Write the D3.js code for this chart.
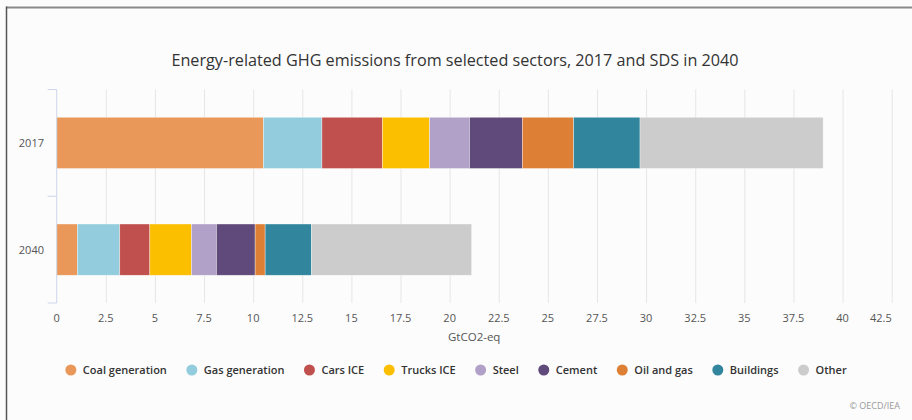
<!DOCTYPE html>
<html>
<head>
<meta charset="utf-8">
<script src="https://cdnjs.cloudflare.com/ajax/libs/d3/7.8.5/d3.min.js"></script>
<style>
  html, body { margin: 0; padding: 0; background: #fcfcfc; }
  svg { display: block; font-family: "Open Sans", sans-serif; }
</style>
</head>
<body>
<svg id="chart" width="912" height="420"></svg>
<script>
// ---- data ----
const categories = ["2017", "2040"];
const seriesNames = ["Coal generation", "Gas generation", "Cars ICE", "Trucks ICE", "Steel", "Cement", "Oil and gas", "Buildings", "Other"];
const coalGeneration = [10.52, 1.05];
const gasGeneration = [2.98, 2.16];
const carsICE = [3.08, 1.53];
const trucksICE = [2.40, 2.12];
const steel = [2.03, 1.27];
const cement = [2.69, 1.97];
const oilAndGas = [2.61, 0.51];
const buildings = [3.38, 2.36];
const other = [9.32, 8.15];
const xTicks = [0, 2.5, 5, 7.5, 10, 12.5, 15, 17.5, 20, 22.5, 25, 27.5, 30, 32.5, 35, 37.5, 40, 42.5];
const colors = ["#e9985a", "#93cddd", "#c0504d", "#fbbf00", "#b1a0c7", "#604a7b", "#dd8036", "#31859c", "#cccccc"];

const seriesValues = [coalGeneration, gasGeneration, carsICE, trucksICE, steel, cement, oilAndGas, buildings, other];

// ---- layout ----
const svg = d3.select("#chart");
const W = 912, H = 420;
const plot = { left: 56.7, right: 891.7, top: 89.5, bottom: 303 };

svg.append("rect").attr("width", W).attr("height", H).attr("fill", "#fcfcfc");
// frame lines (cropped screenshot frame)
svg.append("line").attr("x1", 6).attr("x2", W).attr("y1", 7.5).attr("y2", 7.5)
  .attr("stroke", "#8a8a8a").attr("stroke-width", 2);
svg.append("line").attr("x1", 6.5).attr("x2", 6.5).attr("y1", 6.5).attr("y2", H)
  .attr("stroke", "#555").attr("stroke-width", 1.5);

// title
svg.append("text").attr("x", 455).attr("y", 66).attr("text-anchor", "middle")
  .attr("font-size", 16.2).attr("fill", "#333")
  .text("Energy-related GHG emissions from selected sectors, 2017 and SDS in 2040");

const x = d3.scaleLinear().domain([0, 42.5]).range([plot.left, plot.right]);
const y = d3.scaleBand().domain(categories).range([plot.top, plot.bottom]).padding(0);

// gridlines
svg.append("g").selectAll("line").data(xTicks.filter(t => t > 0)).join("line")
  .attr("x1", d => x(d) + 0.5).attr("x2", d => x(d) + 0.5)
  .attr("y1", plot.top).attr("y2", plot.bottom)
  .attr("stroke", "#e6e6e6").attr("stroke-width", 1);

// stacked data
const table = categories.map((c, i) => {
  const o = { cat: c };
  seriesNames.forEach((s, j) => o[s] = seriesValues[j][i]);
  return o;
});
const stacked = d3.stack().keys(seriesNames)(table);

const barH = y.bandwidth() * 0.48;
svg.append("g").selectAll("g").data(stacked).join("g")
  .attr("fill", (d, i) => colors[i])
  .selectAll("rect").data(d => d).join("rect")
  .attr("x", d => x(d[0]))
  .attr("width", d => x(d[1]) - x(d[0]))
  .attr("y", d => y(d.data.cat) + (y.bandwidth() - barH) / 2)
  .attr("height", barH)
  .attr("stroke", "#ffffff").attr("stroke-width", 0.6).attr("stroke-opacity", 0.6);

// y axis line and ticks
svg.append("line").attr("x1", plot.left).attr("x2", plot.left)
  .attr("y1", plot.top).attr("y2", plot.bottom).attr("stroke", "#ccd6eb");
const yTickPos = [plot.top, ...categories.slice(1).map(c => y(c)), plot.bottom];
svg.append("g").selectAll("line").data(yTickPos).join("line")
  .attr("x1", plot.left - 9).attr("x2", plot.left)
  .attr("y1", d => d).attr("y2", d => d).attr("stroke", "#ccd6eb");
svg.append("g").selectAll("text").data(categories).join("text")
  .attr("x", 44).attr("y", d => y(d) + y.bandwidth() / 2 + 4)
  .attr("text-anchor", "end").attr("font-size", 11).attr("fill", "#555")
  .text(d => d);

// x tick labels
const xl = svg.append("g").selectAll("text").data(xTicks).join("text")
  .attr("x", d => x(d)).attr("y", 321.5)
  .attr("text-anchor", "middle").attr("font-size", 11).attr("fill", "#555")
  .text(d => d);
xl.each(function() {
  const bb = this.getBBox();
  if (bb.x + bb.width > plot.right) {
    d3.select(this).attr("x", +d3.select(this).attr("x") - (bb.x + bb.width - plot.right));
  }
});

// x axis title
svg.append("text").attr("x", (plot.left + plot.right) / 2).attr("y", 341)
  .attr("text-anchor", "middle").attr("font-size", 11.5).attr("fill", "#555")
  .text("GtCO2-eq");

// legend
const legend = svg.append("g");
const items = legend.selectAll("g").data(seriesNames).join("g");
items.append("circle").attr("r", 5.5).attr("cy", 0).attr("fill", (d, i) => colors[i]);
items.append("text").attr("x", 12).attr("y", 4.2)
  .attr("font-size", 11).attr("font-weight", 600).attr("fill", "#333")
  .text(d => d);
let cx = 0;
const pos = [];
items.each(function(d, i) {
  const tw = d3.select(this).select("text").node().getComputedTextLength();
  pos.push(cx);
  cx += 12 + tw + 25;
});
const totalW = cx - 25 + 5.5;
const start = 456 - totalW / 2 + 5.5;
items.attr("transform", (d, i) => `translate(${start + pos[i]},370)`);

// credits
svg.append("text").attr("x", 900).attr("y", 409).attr("text-anchor", "end")
  .attr("font-size", 9).attr("fill", "#999").text("© OECD/IEA");
</script>
</body>
</html>
